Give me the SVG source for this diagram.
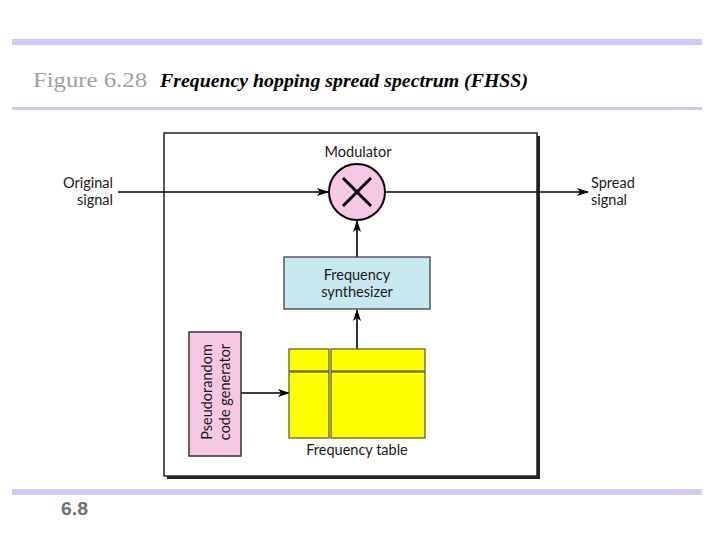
<svg xmlns="http://www.w3.org/2000/svg" width="720" height="540" viewBox="0 0 720 540">
<defs>
<marker id="arr" viewBox="0 0 12 8" refX="11" refY="4" markerWidth="12" markerHeight="8" markerUnits="userSpaceOnUse" orient="auto">
<path d="M0,0 L12,4 L0,8 L3,4 z" fill="#000"/>
</marker>
<style>
.lbl{font-family:Lato,"Open Sans","Liberation Sans",sans-serif;font-size:14.5px;fill:#1a1a1a}
.line{stroke:#000;stroke-width:1.6;fill:none}
.bar{fill:#ccccf5}
</style>
</defs>
<rect width="720" height="540" fill="#fff"/>
<rect class="bar" x="12" y="39" width="690" height="6"/>
<rect class="bar" x="12" y="107" width="690" height="3"/>
<rect class="bar" x="12" y="489" width="690" height="6"/>
<text x="33" y="87" font-family="Liberation Serif,serif" font-size="21" fill="#a0a0a0" textLength="114" lengthAdjust="spacingAndGlyphs">Figure 6.28</text>
<text x="160" y="87" font-family="Liberation Serif,serif" font-size="18" font-style="italic" font-weight="bold" fill="#000" textLength="368" lengthAdjust="spacingAndGlyphs">Frequency hopping spread spectrum (FHSS)</text>
<text x="61" y="515" font-family="Liberation Sans Narrow,Liberation Sans,sans-serif" font-size="18" font-weight="bold" fill="#707070" textLength="27" lengthAdjust="spacingAndGlyphs">6.8</text>

<g id="frame">
<rect x="167" y="136" width="373" height="343" fill="#222"/>
<rect x="164" y="133" width="373" height="343" fill="#fff" stroke="#222" stroke-width="1.5"/>
</g>

<g id="connectors">
<line class="line" x1="118" y1="192" x2="328" y2="192" marker-end="url(#arr)"/>
<line class="line" x1="385" y1="192" x2="588" y2="192" marker-end="url(#arr)"/>
<line class="line" x1="357" y1="257" x2="357" y2="221" marker-end="url(#arr)"/>
<line class="line" x1="357" y1="349" x2="357" y2="310" marker-end="url(#arr)"/>
<line class="line" x1="241" y1="393" x2="289" y2="393" marker-end="url(#arr)"/>
</g>

<g id="modulator">
<circle cx="357" cy="192" r="28" fill="#f7c8e4" stroke="#000" stroke-width="2"/>
<path d="M343,178 L371,206 M371,178 L343,206" stroke="#000" stroke-width="3" fill="none"/>
<text class="lbl" x="358" y="157" text-anchor="middle">Modulator</text>
</g>

<g id="synthesizer">
<rect x="284" y="257" width="146" height="52" fill="#c8e8f0" stroke="#333" stroke-width="1.2"/>
<text class="lbl" x="357" y="279.5" text-anchor="middle">Frequency</text>
<text class="lbl" x="357" y="297" text-anchor="middle">synthesizer</text>
</g>

<g id="table">
<rect x="289" y="349" width="40" height="22" fill="#ffff00" stroke="#555522" stroke-width="1.2"/>
<rect x="331" y="349" width="94" height="22" fill="#ffff00" stroke="#555522" stroke-width="1.2"/>
<rect x="289" y="372" width="40" height="66" fill="#ffff00" stroke="#555522" stroke-width="1.2"/>
<rect x="331" y="372" width="94" height="66" fill="#ffff00" stroke="#555522" stroke-width="1.2"/>
<text class="lbl" x="357" y="455" text-anchor="middle">Frequency table</text>
</g>

<g id="pseudorandom">
<rect x="189" y="332" width="52" height="124" fill="#f7c8e4" stroke="#333" stroke-width="1.5"/>
<text class="lbl" transform="translate(212,392) rotate(-90)" text-anchor="middle">Pseudorandom</text>
<text class="lbl" transform="translate(230,392) rotate(-90)" text-anchor="middle">code generator</text>
</g>

<g id="labels">
<text class="lbl" x="113" y="187.5" text-anchor="end">Original</text>
<text class="lbl" x="113" y="205" text-anchor="end">signal</text>
<text class="lbl" x="591" y="187.5">Spread</text>
<text class="lbl" x="591" y="205">signal</text>
</g>
</svg>
